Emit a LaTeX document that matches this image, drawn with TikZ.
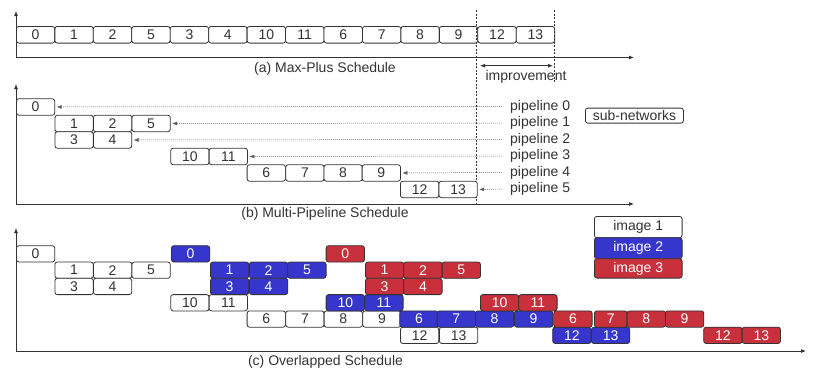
\documentclass[tikz,border=0pt]{standalone}
\usepackage{fontspec}
\setmainfont{Liberation Sans}
\usetikzlibrary{arrows.meta}
\definecolor{bblue}{HTML}{3636CC}
\definecolor{rred}{HTML}{C8303C}
\definecolor{ink}{HTML}{333333}
\begin{document}
\begin{tikzpicture}[x=1pt,y=-1pt,
  font=\fontsize{14}{16}\selectfont,
  every node/.style={text=ink},
  job/.style={draw=ink, line width=0.8pt, rounded corners=2.5pt, minimum width=38.4pt,
    minimum height=16.5pt, inner sep=0pt, anchor=north west, fill=white},
  bjob/.style={job, fill=bblue, text=white},
  rjob/.style={job, fill=rred, text=white},
  axis/.style={draw=ink, line width=0.8pt, -{Latex[length=5pt,width=4pt]}},
  guide/.style={draw=ink, line width=0.6pt, dash pattern=on 2pt off 1.5pt},
  pipearrow/.style={draw=ink!80, line width=0.5pt, dash pattern=on 1pt off 1pt,
    -{Latex[length=5pt,width=4pt]}, shorten >=1.5pt},
  lbl/.style={inner sep=0pt, anchor=west}
]
\useasboundingbox (0,0) rectangle (822,383);

% ---------- (a) ----------
\coordinate (ao) at (16,57.5);
\coordinate (ay) at (16,11);
\coordinate (ax) at (634,57.5);
\draw[axis] (ao) -- (ay);
\draw[axis] (ao) -- (ax);
\foreach \t [count=\c from 0] in {0,1,2,5,3,4,10,11,6,7,8,9,12,13}
  \node[job, minimum height=16.7pt] (a\c) at ({16+38.45*\c},26) {\t};
\coordinate (d1t) at (476.7,10);
\coordinate (d1b) at (476.7,203);
\coordinate (d2t) at (554.3,10);
\coordinate (d2b) at (554.3,82);
\draw[guide] (d1t) -- (d1b);
\draw[guide] (d2t) -- (d2b);
\coordinate (i1) at (480,65.7);
\coordinate (i2) at (553,65.7);
\draw[draw=ink, line width=0.8pt, {Latex[length=5pt,width=4pt]}-{Latex[length=5pt,width=4pt]}] (i1) -- (i2);
\node (impr) at (526,76.5) {improvement};
\node (capa) at (325,69) {(a) Max-Plus Schedule};

% ---------- (b) ----------
\coordinate (bo) at (16,204);
\coordinate (by) at (16,84);
\coordinate (bx) at (634,204);
\draw[axis] (bo) -- (by);
\draw[axis] (bo) -- (bx);
\foreach \t/\x/\r in {0/16/0, 1/54.5/1, 2/93/1, 5/131.5/1, 3/54.5/2, 4/93/2,
    10/170.3/3, 11/208.7/3, 6/246.7/4, 7/285.3/4, 8/323.5/4, 9/361.7/4,
    12/400/5, 13/438.5/5}
  \node[job] (b\t) at (\x,{98.3+16.5*\r}) {\t};
\foreach \r/\tg in {0/0, 1/5, 2/4, 3/11, 4/9, 5/13} {
  \node[lbl] (p\r) at (510,{106.8+16.5*\r}) {pipeline \r};
  \coordinate (s\r) at (502,{106.55+16.5*\r});
  \draw[pipearrow] (s\r) -- (b\tg.east);
}
\node[job, minimum width=98pt, minimum height=15pt] (sn) at (585,107.7) {sub-networks};
\node (capb) at (325,214.3) {(b) Multi-Pipeline Schedule};

% ---------- (c) ----------
\coordinate (co) at (16,351);
\coordinate (cy) at (16,228);
\coordinate (cx) at (806,351);
\draw[axis] (co) -- (cy);
\draw[axis] (co) -- (cx);
\foreach \t/\x/\r in {0/16/0, 1/54.5/1, 2/93/1, 5/131.5/1, 3/54.5/2, 4/93/2,
    10/170.3/3, 11/208.7/3, 6/246.7/4, 7/285.3/4, 8/323.7/4, 9/362.3/4,
    12/400/5, 13/439/5}
  \node[job, minimum height=16.3pt] (cw\t) at (\x,{245.3+16.3*\r}) {\t};
\foreach \t/\x/\r in {0/171/0, 1/210/1, 2/249/1, 5/287.3/1, 3/210/2, 4/249/2,
    10/325.7/3, 11/364.3/3, 6/399.3/4, 7/436.7/4, 8/475/4, 9/514/4,
    12/552.3/5, 13/591/5}
  \node[bjob, minimum height=16.3pt] (cb\t) at (\x,{245.3+16.3*\r}) {\t};
\foreach \t/\x/\r/\w in {0/325.7/0/38.4, 1/365/1/38.4, 2/403.3/1/38.4, 5/441.7/1/38.4,
    3/365/2/38.4, 4/403.3/2/38.4, 10/480/3/38.4, 11/518.3/3/38.4,
    6/553.3/4/38.4, 7/594/4/32.7, 8/626.7/4/38.4, 9/665/4/38.4,
    12/703.3/5/38.4, 13/741.7/5/38.4}
  \node[rjob, minimum height=16.3pt, minimum width=\w pt] (cr\t) at (\x,{245.3+16.3*\r}) {\t};
\node[job, minimum width=87.7pt, minimum height=21.3pt] (l1) at (594,216) {image 1};
\node[bjob, minimum width=87.7pt, minimum height=21pt] (l2) at (594,237.3) {image 2};
\node[rjob, minimum width=87.7pt, minimum height=19.4pt] (l3) at (594,258.3) {image 3};
\node (capc) at (325.5,361.7) {(c) Overlapped Schedule};
\end{tikzpicture}
\end{document}
